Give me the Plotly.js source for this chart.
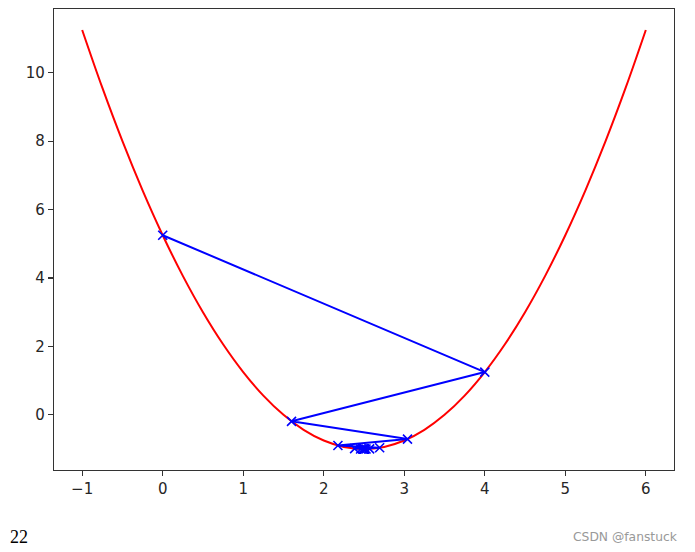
<!DOCTYPE html>
<html>
<head>
<meta charset="utf-8">
<script src="https://cdn.plot.ly/plotly-3.0.1.min.js"></script>
<style>
html,body{margin:0;padding:0;background:#fff;}
#chart{width:695px;height:552px;}
</style>
</head>
<body>
<div id="chart"></div>
<script>
// Parabola samples
const curveX = [-1,-0.75,-0.5,-0.25,0,0.25,0.5,0.75,1,1.25,1.5,1.75,2,2.25,2.5,2.75,3,3.25,3.5,3.75,4,4.25,4.5,4.75,5,5.25,5.5,5.75,6];
const curveY = [11.25,9.5625,8,6.5625,5.25,4.0625,3,2.0625,1.25,0.5625,0,-0.4375,-0.75,-0.9375,-1,-0.9375,-0.75,-0.4375,0,0.5625,1.25,2.0625,3,4.0625,5.25,6.5625,8,9.5625,11.25];

// Descent path points
const pathX = [0,4,1.6,3.04,2.176,2.6944,2.38336,2.569984,2.4580096,2.52519424,2.48488346,2.50906993,2.49455804,2.50326518,2.49804089,2.50117547,2.49929472,2.50042317,2.4997461,2.50015234,2.4999086,2.50005484];
const pathY = [5.25,1.25,-0.19,-0.7084,-0.895024,-0.96220864,-0.98639511,-0.99510224,-0.99823681,-0.99936525,-0.99977149,-0.99991774,-0.99997039,-0.99998934,-0.99999616,-0.99999862,-0.9999995,-0.99999982,-0.99999994,-0.99999998,-1.0,-1.0];

const xTicks = [-1,0,1,2,3,4,5,6];
const yTicks = [0,2,4,6,8,10];
const stepCount = "22";
const watermark = "CSDN @fanstuck";

const tickFont = {family:"DejaVu Sans", size:15, color:"#262626"};

const traces = [
  {x: curveX, y: curveY, mode:"lines", line:{color:"red", width:2, shape:"spline"}, hoverinfo:"skip"},
  {x: pathX, y: pathY, mode:"lines+markers", line:{color:"blue", width:2},
   marker:{symbol:"x-thin-open", size:9, color:"blue", line:{color:"blue", width:1.6}}}
];

const axisCommon = {
  showgrid:false, zeroline:false, showline:true, mirror:true,
  linecolor:"#333", linewidth:1.2, ticks:"outside", ticklen:5, tickwidth:1.2,
  tickcolor:"#333", tickfont:tickFont
};

const layout = {
  width:695, height:552,
  margin:{l:54, r:21, t:9, b:82},
  paper_bgcolor:"#fff", plot_bgcolor:"#fff",
  showlegend:false,
  xaxis: Object.assign({}, axisCommon, {range:[-1.35,6.35], tickvals:xTicks, ticktext:xTicks.map(v=>v<0?"\u2212"+Math.abs(v):String(v))}),
  yaxis: Object.assign({}, axisCommon, {range:[-1.6125,11.8625], tickvals:yTicks}),
  annotations:[
    {text:stepCount, xref:"paper", yref:"paper", x:-0.075, y:-0.146, xanchor:"left", yanchor:"middle", showarrow:false,
     font:{family:"Liberation Serif", size:18, color:"#000"}},
    {text:watermark, xref:"paper", yref:"paper", x:1.01, y:-0.146, xanchor:"right", yanchor:"middle", showarrow:false,
     font:{family:"DejaVu Sans", size:12.3, color:"#999"}}
  ]
};

Plotly.newPlot("chart", traces, layout, {displayModeBar:false, staticPlot:true});
</script>
</body>
</html>
